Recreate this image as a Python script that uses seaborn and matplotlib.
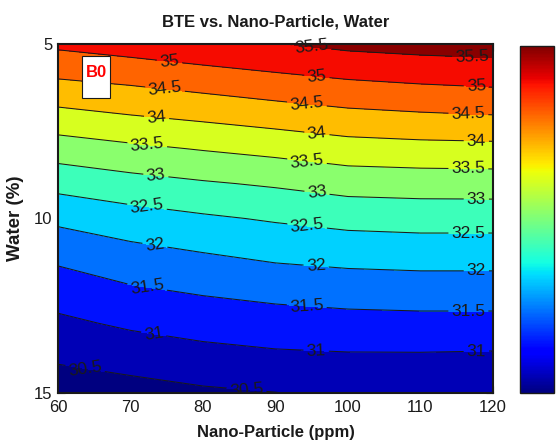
import numpy as np
import matplotlib
matplotlib.use("Agg")
import matplotlib.pyplot as plt
import matplotlib.colors as mcolors
from matplotlib.patches import Rectangle
import seaborn as sns

# ---- data ----
nano = [60, 70, 80, 90, 100, 110, 120]            # ppm
water = [5, 6, 7, 8, 9, 10, 11, 12, 13, 14, 15]   # %
# BTE values at each water level, one list per nano-particle column
bte_n60 = [35.10, 34.50, 33.88, 33.25, 32.66, 32.11, 31.64, 31.25, 30.90, 30.56, 30.22]
bte_n70 = [35.24, 34.61, 34.02, 33.40, 32.82, 32.29, 31.85, 31.46, 31.08, 30.69, 30.31]
bte_n80 = [35.38, 34.75, 34.14, 33.53, 32.95, 32.43, 31.99, 31.58, 31.20, 30.82, 30.42]
bte_n90 = [35.48, 34.89, 34.27, 33.65, 33.06, 32.55, 32.12, 31.68, 31.28, 30.90, 30.49]
bte_n100 = [35.62, 35.01, 34.40, 33.79, 33.20, 32.66, 32.19, 31.75, 31.33, 30.93, 30.60]
bte_n110 = [35.69, 35.09, 34.47, 33.84, 33.23, 32.70, 32.22, 31.78, 31.35, 30.93, 30.60]
bte_n120 = [35.73, 35.15, 34.52, 33.86, 33.24, 32.70, 32.22, 31.78, 31.35, 30.91, 30.60]

fill_levels = [30.0, 30.5, 31.0, 31.5, 32.0, 32.5, 33.0, 33.5, 34.0, 34.5, 35.0, 35.5, 36.0]
line_levels = [30.5, 31.0, 31.5, 32.0, 32.5, 33.0, 33.5, 34.0, 34.5, 35.0, 35.5]
color_range = [30.25, 35.55]
xticks = [60, 70, 80, 90, 100, 110, 120]
yticks = [5, 10, 15]
cbar_ticks = [31, 32, 33, 34, 35]

# label anchor points (layout only)
label_pos = [
    (75.4, 5.45), (74.8, 6.22), (73.6, 7.10), (72.3, 7.90), (73.5, 8.76),
    (72.3, 9.62), (73.4, 10.72), (72.3, 11.97), (73.2, 13.32), (63.7, 14.35),
    (86.0, 14.92),
    (95.0, 5.15), (95.7, 5.95), (94.3, 6.78), (95.7, 7.58), (94.3, 8.44),
    (95.7, 9.30), (94.3, 10.32), (95.6, 11.37), (94.3, 12.54), (95.6, 13.82),
    (117.1, 5.45), (117.7, 6.26), (116.6, 7.03), (117.7, 7.80), (116.6, 8.58),
    (117.7, 9.43), (116.6, 10.40), (117.7, 11.48), (116.6, 12.65), (117.7, 13.80),
]

# ---- figure ----
sns.set_theme(style="white")
plt.rcParams["font.family"] = ["Liberation Sans", "DejaVu Sans"]

Z = np.column_stack([bte_n60, bte_n70, bte_n80, bte_n90, bte_n100, bte_n110, bte_n120])
X, Y = np.meshgrid(nano, water)

cmap = plt.get_cmap("jet")
norm = mcolors.Normalize(vmin=color_range[0], vmax=color_range[1])
band_colors = [cmap(norm(lo)) for lo in fill_levels[:-1]]

W, H = 556, 446
fig = plt.figure(figsize=(W / 100, H / 100), dpi=100)
fig.patch.set_facecolor("white")
ax = fig.add_axes([58 / W, 1 - 393 / H, (493 - 58) / W, (393 - 44) / H])

ax.contourf(X, Y, Z, levels=fill_levels, colors=band_colors)
cs = ax.contour(X, Y, Z, levels=line_levels, colors="k", linewidths=0.75)
texts = ax.clabel(cs, fmt="%g", manual=label_pos, inline=True,
                  inline_spacing=3, fontsize=12.5, colors="k")
for t in texts:
    x, y = t.get_position()
    t.set_clip_on(y > 14.5)

ax.set_xlim(60, 120)
ax.set_ylim(15, 5)
ax.set_xticks(xticks)
ax.set_yticks(yticks)
ax.tick_params(axis="both", direction="in", length=5, width=0.8, color="k",
               labelsize=12, labelcolor="k", top=True, right=True,
               bottom=True, left=True)
ax.tick_params(axis="x", pad=5)
ax.tick_params(axis="y", pad=4)
for s in ax.spines.values():
    s.set_color("k")
    s.set_linewidth(1.5)
    s.set_visible(True)

ax.set_xlabel("Nano-Particle (ppm)", fontsize=12, fontweight="bold", color="k")
ax.xaxis.set_label_coords(0.5, (393 - 433) / 349)
ax.xaxis.label.set_va("center")
ax.set_ylabel("Water (%)", fontsize=13.5, fontweight="bold", color="k")
ax.yaxis.set_label_coords((15 - 58) / 435, 0.5)
ax.yaxis.label.set_va("center")

fig.text(275.5 / W, 1 - 22 / H, "BTE vs. Nano-Particle, Water", ha="center",
         va="center", fontsize=12, fontweight="bold", color="k")

# B0 tag
ax.add_patch(Rectangle((0.055, 0.845), 0.065, 0.121, transform=ax.transAxes,
                       facecolor="white", edgecolor="k", linewidth=0.8, zorder=5))
ax.text(0.0875, 0.918, "B0", transform=ax.transAxes, ha="center", va="center",
        color="red", fontsize=12, fontweight="bold", zorder=6)

# colorbar
cax = fig.add_axes([520 / W, 1 - 393 / H, 34 / W, (393 - 46) / H])
sm = matplotlib.cm.ScalarMappable(norm=norm, cmap=cmap)
cb = fig.colorbar(sm, cax=cax, ticks=cbar_ticks)
cax.tick_params(direction="in", length=3, width=0.8, color="k", left=True,
                right=True, labelright=False, labelleft=False)
cb.outline.set_edgecolor("k")
cb.outline.set_linewidth(1.0)

fig.savefig("out.png", dpi=100, facecolor="white")
